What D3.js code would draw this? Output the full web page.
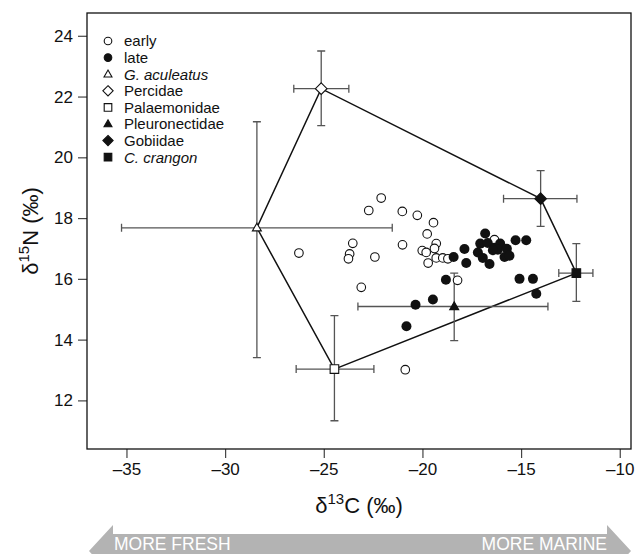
<!DOCTYPE html>
<html>
<head>
<meta charset="utf-8">
<script src="https://cdnjs.cloudflare.com/ajax/libs/d3/7.8.5/d3.min.js"></script>
<style>
  body { margin: 0; background: #fff; }
  svg { font-family: "Liberation Sans", Arial, Helvetica, sans-serif; }
</style>
</head>
<body>
<svg id="chart" width="640" height="554"></svg>
<script>
// individual fish, early season (open circles)
var earlyC = [-22.09, -22.72, -21.02, -20.26, -19.44, -19.76, -23.53, -21.01, -19.30, -19.39, -20.01,
              -19.81, -26.26, -23.69, -23.75, -22.41, -19.30, -18.97, -18.71, -19.71, -23.10, -16.35,
              -18.22, -20.87];
var earlyN = [18.66, 18.25, 18.22, 18.09, 17.85, 17.48, 17.17, 17.12, 17.16, 17.00, 16.93,
              16.87, 16.85, 16.82, 16.66, 16.72, 16.69, 16.69, 16.66, 16.52, 15.72, 17.29,
              15.95, 13.01];
// late season (filled circles)
var lateC = [-16.82, -17.07, -16.69, -16.06, -15.28, -14.74, -17.87, -17.19, -16.35, -16.18, -15.72,
             -16.43, -16.94, -15.84, -15.59, -18.42, -17.78, -16.60, -18.81, -15.08, -14.40, -14.23,
             -19.47, -20.35, -20.81];
var lateN = [17.49, 17.16, 17.18, 17.16, 17.27, 17.27, 16.98, 16.87, 17.02, 16.96, 16.99,
             16.94, 16.69, 16.72, 16.76, 16.72, 16.52, 16.49, 15.97, 16.00, 16.00, 15.51,
             15.32, 15.15, 14.44];

// prey sources: mean and error bar ends
var srcNames = ["G. aculeatus", "Percidae", "Palaemonidae", "Pleuronectidae", "Gobiidae", "C. crangon"];
var srcShape = ["triangle", "diamond", "square", "triangle", "diamond", "square"];
var srcFill  = [false, false, false, true, true, true];
var srcC   = [-28.39, -25.13, -24.46, -18.39, -14.01, -12.20];
var srcN   = [17.68, 22.26, 13.03, 15.09, 18.64, 16.19];
var srcCLo = [-35.25, -26.52, -26.40, -23.27, -15.89, -13.09];
var srcCHi = [-21.53, -23.73, -22.46, -13.64, -12.17, -11.36];
var srcNLo = [13.41, 21.04, 11.33, 13.97, 17.73, 15.26];
var srcNHi = [21.17, 23.50, 14.79, 16.19, 19.56, 17.16];

var xTicks = [-35, -30, -25, -20, -15, -10];
var yTicks = [12, 14, 16, 18, 20, 22, 24];

var legendLabels = ["early", "late", "G. aculeatus", "Percidae", "Palaemonidae", "Pleuronectidae", "Gobiidae", "C. crangon"];
var legendShape = ["circle", "circle", "triangle", "diamond", "square", "triangle", "diamond", "square"];
var legendFill = [false, true, false, false, false, true, true, true];
var legendItalic = [false, false, true, false, false, false, false, true];

var svg = d3.select("svg"),
    margin = {top: 13, right: 631, bottom: 449, left: 87};

var x = d3.scaleLinear().domain([-37, -9.43]).range([margin.left, margin.right]);
var y = d3.scaleLinear().domain([10.4, 24.75]).range([margin.bottom, margin.top]);

function shapePath(type, s) {
    if (type == "circle") {
        return d3.symbol().type(d3.symbolCircle).size(Math.PI * s * s)();
    }
    if (type == "square") {
        return "M" + (-s) + "," + (-s) + "H" + s + "V" + s + "H" + (-s) + "Z";
    }
    if (type == "diamond") {
        var d = s * 1.35;
        return "M0," + (-d) + "L" + d + ",0L0," + d + "L" + (-d) + ",0Z";
    }
    // triangle
    var h = s * 1.8;
    return "M0," + (-h * 0.6) + "L" + (h * 0.58) + "," + (h * 0.4) + "L" + (-h * 0.58) + "," + (h * 0.4) + "Z";
}

var dash = function(d) { return d < 0 ? "\u2013" + Math.abs(d) : "" + d; };

// axes
var gx = svg.append("g")
    .attr("transform", "translate(0," + margin.bottom + ")")
    .call(d3.axisBottom(x).tickValues(xTicks).tickSize(9).tickPadding(5).tickFormat(dash));
var gy = svg.append("g")
    .attr("transform", "translate(" + margin.left + ",0)")
    .call(d3.axisLeft(y).tickValues(yTicks).tickSize(9).tickPadding(5).tickFormat(dash));
[gx, gy].forEach(function(g) {
    g.select(".domain").remove();
    g.selectAll("line").attr("stroke", "#444").attr("stroke-width", 1.2);
    g.selectAll("text").attr("font-size", 17).attr("fill", "#111")
        .attr("font-family", "Liberation Sans, Arial, sans-serif");
});

svg.append("rect")
    .attr("x", margin.left).attr("y", margin.top)
    .attr("width", margin.right - margin.left).attr("height", margin.bottom - margin.top)
    .attr("fill", "none").attr("stroke", "#111").attr("stroke-width", 1.3);

// axis titles
var xt = svg.append("text")
    .attr("x", (margin.left + margin.right) / 2).attr("y", 513)
    .attr("text-anchor", "middle").attr("font-size", 22).attr("fill", "#111");
xt.append("tspan").text("\u03b4");
xt.append("tspan").attr("font-size", 15).attr("dy", -9).text("13");
xt.append("tspan").attr("dy", 9).text("C (\u2030)");

var yt = svg.append("text")
    .attr("transform", "translate(38," + ((margin.top + margin.bottom) / 2) + ") rotate(-90)")
    .attr("text-anchor", "middle").attr("font-size", 22).attr("fill", "#111");
yt.append("tspan").text("\u03b4");
yt.append("tspan").attr("font-size", 15).attr("dy", -9).text("15");
yt.append("tspan").attr("dy", 9).text("N (\u2030)");

// mixing polygon around source means
var hull = d3.polygonHull(srcC.map(function(c, i) { return [x(c), y(srcN[i])]; }));
svg.append("path")
    .attr("d", "M" + hull.join("L") + "Z")
    .attr("fill", "none").attr("stroke", "#111").attr("stroke-width", 1.5);

// error bars
var eb = svg.append("g").attr("stroke", "#555").attr("stroke-width", 1.3).attr("fill", "none");
srcNames.forEach(function(name, i) {
    var cx = x(srcC[i]), cy = y(srcN[i]), cap = 4;
    var x0 = x(srcCLo[i]), x1 = x(srcCHi[i]), y0 = y(srcNLo[i]), y1 = y(srcNHi[i]);
    eb.append("path").attr("d",
        "M" + x0 + "," + cy + "H" + x1 +
        "M" + x0 + "," + (cy - cap) + "V" + (cy + cap) +
        "M" + x1 + "," + (cy - cap) + "V" + (cy + cap) +
        "M" + cx + "," + y0 + "V" + y1 +
        "M" + (cx - cap) + "," + y0 + "H" + (cx + cap) +
        "M" + (cx - cap) + "," + y1 + "H" + (cx + cap));
});

// individual points
svg.append("g").selectAll("circle.early")
    .data(earlyC)
    .enter()
    .append("circle")
        .attr("cx", function(d) { return x(d); })
        .attr("cy", function(d, i) { return y(earlyN[i]); })
        .attr("r", 4.3)
        .attr("fill", "#fff").attr("stroke", "#111").attr("stroke-width", 1.1);

svg.append("g").selectAll("circle.late")
    .data(lateC)
    .enter()
    .append("circle")
        .attr("cx", function(d) { return x(d); })
        .attr("cy", function(d, i) { return y(lateN[i]); })
        .attr("r", 5)
        .attr("fill", "#111");

// source means
svg.append("g").selectAll("path")
    .data(srcNames)
    .enter()
    .append("path")
        .attr("transform", function(d, i) { return "translate(" + x(srcC[i]) + "," + y(srcN[i]) + ")"; })
        .attr("d", function(d, i) { return shapePath(srcShape[i], 4.3); })
        .attr("fill", function(d, i) { return srcFill[i] ? "#111" : "#fff"; })
        .attr("stroke", "#111").attr("stroke-width", 1.1);

// legend
var leg = svg.append("g").attr("transform", "translate(108,41)");
var row = leg.selectAll("g")
    .data(legendLabels)
    .enter()
    .append("g")
        .attr("transform", function(d, i) { return "translate(0," + (i * 16.6) + ")"; });
row.append("path")
    .attr("d", function(d, i) { return shapePath(legendShape[i], 3.8); })
    .attr("fill", function(d, i) { return legendFill[i] ? "#111" : "#fff"; })
    .attr("stroke", "#111").attr("stroke-width", 1.1);
row.append("text")
    .attr("x", 16).attr("dy", "0.36em")
    .attr("font-size", 15).attr("fill", "#111")
    .attr("font-style", function(d, i) { return legendItalic[i] ? "italic" : "normal"; })
    .text(function(d) { return d; });

// fresh / marine arrow under the axis
var ay = 551;
svg.append("path")
    .attr("d", "M89," + ay + "L113," + (ay - 26) + "V" + (ay - 17) + "H607V" + (ay - 26) +
        "L631," + ay + "L607," + (ay + 26) + "V" + (ay + 17) + "H113V" + (ay + 26) + "Z")
    .attr("fill", "#b3b3b3");
svg.append("text")
    .attr("x", 114).attr("y", 550)
    .attr("font-size", 17.5).attr("fill", "#fff")
    .text("MORE FRESH");
svg.append("text")
    .attr("x", 607).attr("y", 550).attr("text-anchor", "end")
    .attr("font-size", 17.5).attr("fill", "#fff")
    .text("MORE MARINE");
</script>
</body>
</html>
